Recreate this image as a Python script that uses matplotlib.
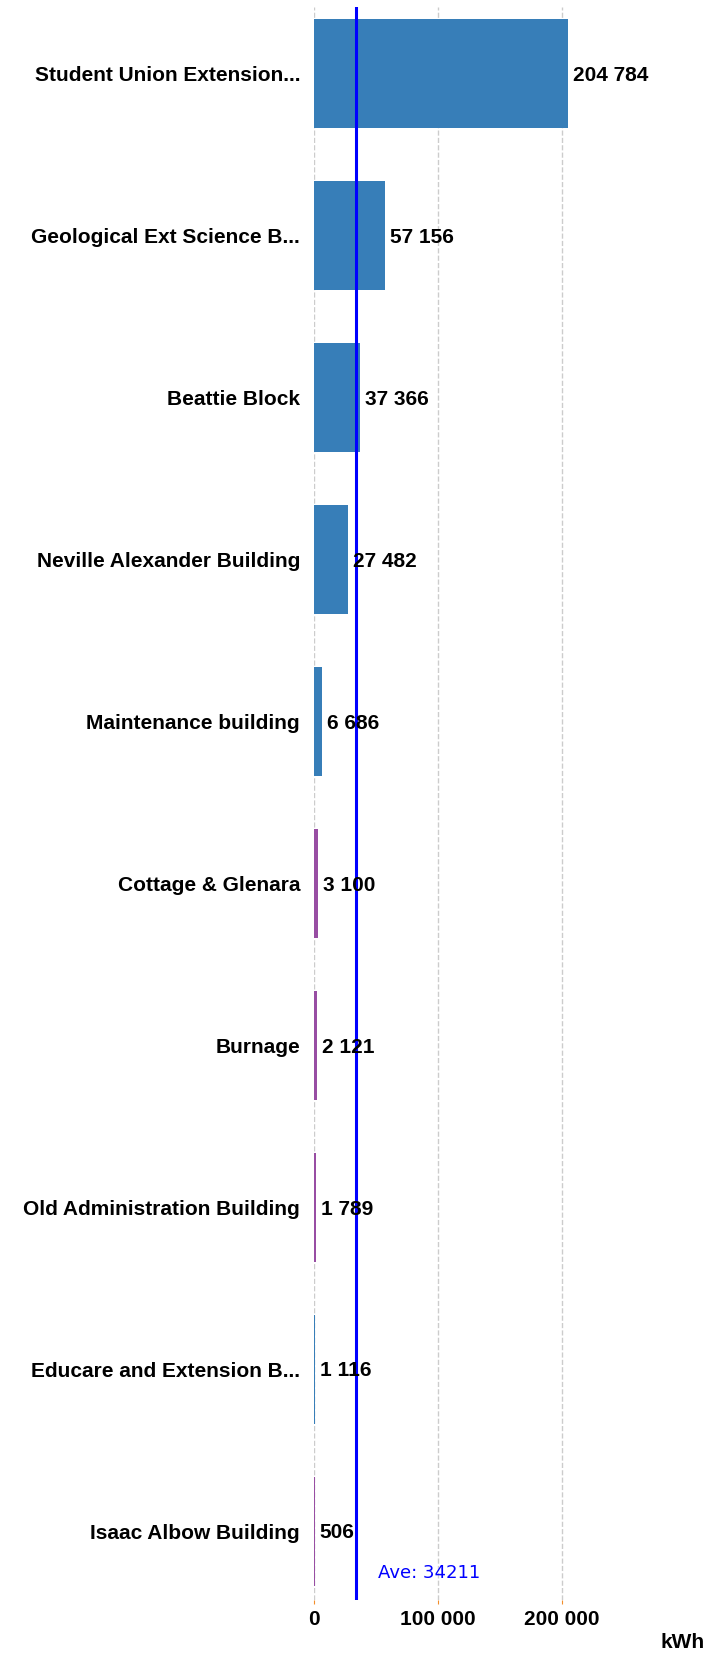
import matplotlib.pyplot as plt

# building consumption data (kWh)
buildings = ["Student Union Extension...", "Geological Ext Science B...", "Beattie Block",
             "Neville Alexander Building", "Maintenance building", "Cottage & Glenara",
             "Burnage", "Old Administration Building", "Educare and Extension B...",
             "Isaac Albow Building"]
usage = [204784, 57156, 37366, 27482, 6686, 3100, 2121, 1789, 1116, 506]
bar_colors = ["#377eb8", "#377eb8", "#377eb8", "#377eb8", "#377eb8",
              "#984ea3", "#984ea3", "#984ea3", "#377eb8", "#984ea3"]
tick_vals = [0, 100000, 200000]
tick_labels = ["0", "100 000", "200 000"]

avg = sum(usage) / len(usage)

def fmt(v):
    return f"{v:,}".replace(",", " ")

plt.rcParams['font.family'] = ['Liberation Sans', 'DejaVu Sans']

fig = plt.figure(figsize=(7.07, 16.54), dpi=100)
ax = fig.add_axes([314 / 707, 54 / 1654, 372 / 707, 1593 / 1654])

ypos = list(range(len(buildings)))
ax.barh(ypos, usage, height=0.673, color=bar_colors, zorder=2)
for y, v in zip(ypos, usage):
    ax.text(v + 4000, y + 0.012, fmt(v), va='center', ha='left', fontsize=15,
            fontweight='bold', color='black', zorder=4)

ax.axvline(avg, color='#0000ff', lw=2.2, zorder=3)
ax.text(avg + 17000, 9.26, f"Ave: {round(avg)}", color='#0000ff', fontsize=13,
        family='DejaVu Sans', va='center', ha='left')

ax.set_xlim(0, 300000)
ax.set_ylim(9.426, -0.41)
ax.set_yticks(ypos)
ax.set_yticklabels(buildings, fontsize=15, fontweight='bold')
ax.set_xticks(tick_vals)
ax.set_xticklabels(tick_labels, fontsize=15, fontweight='bold')
ax.tick_params(axis='y', length=0, pad=10)
ax.tick_params(axis='x', length=3, color='#f28e2b', pad=4)
ax.grid(axis='x', color='#cccccc', linestyle='--', lw=1, zorder=0)
for s in ax.spines.values():
    s.set_visible(False)

fig.text(683 / 707, 1 - 1643 / 1654, "kWh", fontsize=15, fontweight='bold',
         ha='center', va='center')

fig.savefig("out.png", dpi=100)
